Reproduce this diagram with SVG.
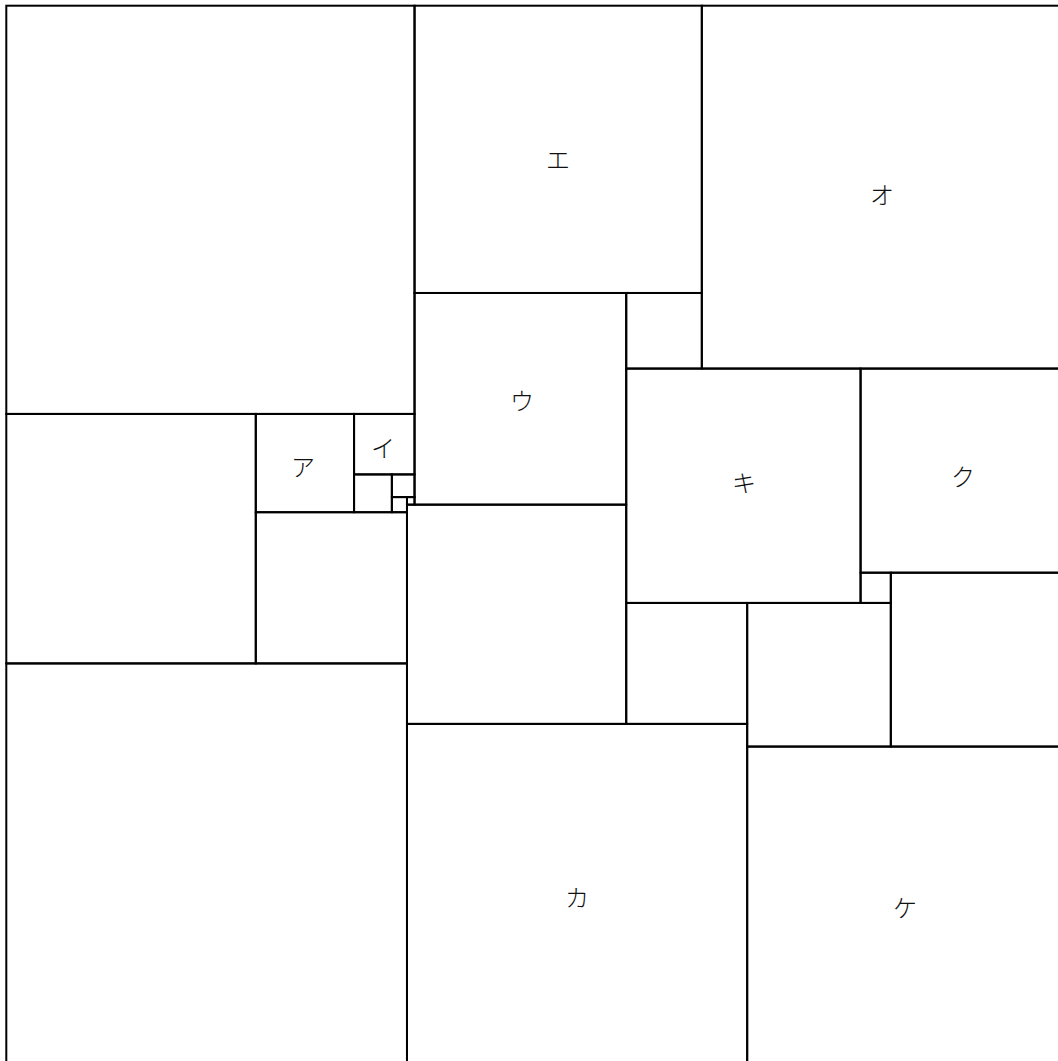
<svg xmlns="http://www.w3.org/2000/svg" width="1058" height="1061" viewBox="0 0 1058 1061">
<style>
.sq{fill:none;stroke:#000;stroke-width:2}
.lb{font-family:"Noto Sans CJK JP","Noto Sans CJK SC",sans-serif;font-size:24px;font-weight:300;fill:#111;text-anchor:middle;dominant-baseline:central}
</style>
<rect x="0" y="0" width="1058" height="1061" fill="#fff"/>
<g id="sq-B"><rect class="sq" x="6.3" y="5.7" width="408.24" height="408.24"/></g>
<g id="sq-E"><rect class="sq" x="414.54" y="5.7" width="287.28" height="287.28"/><text class="lb" x="558" y="158">エ</text></g>
<g id="sq-O"><rect class="sq" x="701.82" y="5.7" width="362.88" height="362.88"/><text class="lb" x="882" y="193">オ</text></g>
<g id="sq-10"><rect class="sq" x="626.22" y="292.98" width="75.6" height="75.6"/></g>
<g id="sq-U"><rect class="sq" x="414.54" y="292.98" width="211.68" height="211.68"/><text class="lb" x="522" y="399">ウ</text></g>
<g id="sq-L"><rect class="sq" x="6.3" y="413.94" width="249.48" height="249.48"/></g>
<g id="sq-A"><rect class="sq" x="255.78" y="413.94" width="98.28" height="98.28"/><text class="lb" x="303" y="465">ア</text></g>
<g id="sq-I"><rect class="sq" x="354.06" y="413.94" width="60.48" height="60.48"/><text class="lb" x="383" y="446">イ</text></g>
<g id="sq-5"><rect class="sq" x="354.06" y="474.42" width="37.8" height="37.8"/></g>
<g id="sq-3"><rect class="sq" x="391.86" y="474.42" width="22.68" height="22.68"/></g>
<g id="sq-2"><rect class="sq" x="391.86" y="497.1" width="15.12" height="15.12"/></g>
<g id="sq-1"><rect class="sq" x="406.98" y="497.1" width="7.56" height="7.56"/></g>
<g id="sq-20"><rect class="sq" x="255.78" y="512.22" width="151.2" height="151.2"/></g>
<g id="sq-29"><rect class="sq" x="406.98" y="504.66" width="219.24" height="219.24"/></g>
<g id="sq-Ki"><rect class="sq" x="626.22" y="368.58" width="234.36" height="234.36"/><text class="lb" x="744" y="481">キ</text></g>
<g id="sq-Ku"><rect class="sq" x="860.58" y="368.58" width="204.12" height="204.12"/><text class="lb" x="963" y="475">ク</text></g>
<g id="sq-4"><rect class="sq" x="860.58" y="572.7" width="30.24" height="30.24"/></g>
<g id="sq-23"><rect class="sq" x="890.82" y="572.7" width="173.88" height="173.88"/></g>
<g id="sq-16"><rect class="sq" x="626.22" y="602.94" width="120.96" height="120.96"/></g>
<g id="sq-19"><rect class="sq" x="747.18" y="602.94" width="143.64" height="143.64"/></g>
<g id="sq-BL"><rect class="sq" x="6.3" y="663.42" width="400.68" height="400.68"/></g>
<g id="sq-Ka"><rect class="sq" x="406.98" y="723.9" width="340.2" height="340.2"/><text class="lb" x="577" y="896">カ</text></g>
<g id="sq-Ke"><rect class="sq" x="747.18" y="746.58" width="317.52" height="317.52"/><text class="lb" x="905" y="906">ケ</text></g>
<g id="connectors"></g>
</svg>
